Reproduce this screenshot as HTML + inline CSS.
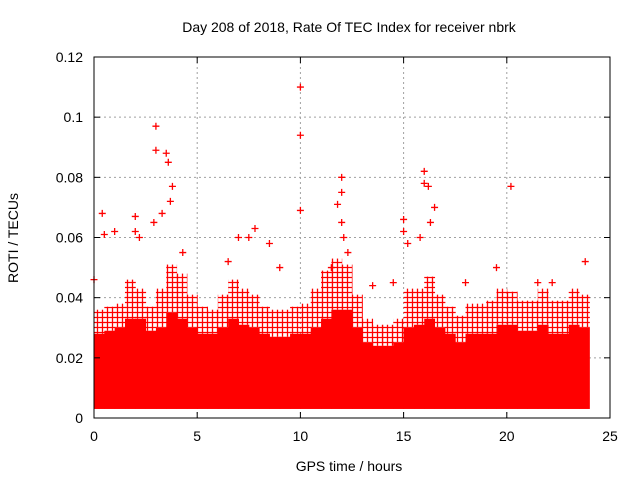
<!DOCTYPE html>
<html><head><meta charset="utf-8"><style>
body{margin:0;background:#fff;}
svg{display:block;font-family:"Liberation Sans",sans-serif;}
</style></head><body>
<svg id="chart" width="640" height="480">
<defs>
<pattern id="plus" width="5" height="5" patternUnits="userSpaceOnUse">
<path d="M0 2.5H5M2.5 0V5" stroke="#f00" stroke-width="1.3"/>
</pattern>
</defs>
<text x="349" y="32" font-size="14" text-anchor="middle">Day 208 of 2018, Rate Of TEC Index for receiver nbrk</text>
<text x="349" y="471" font-size="14" text-anchor="middle">GPS time / hours</text>
<text transform="translate(18,238) rotate(-90)" font-size="14" text-anchor="middle">ROTI / TECUs</text>
<g id="grid"></g><g id="marks"></g><g id="axes"></g>
</svg>
<script>
const xTicks=[0,5,10,15,20,25];
const yTicks=[0,0.02,0.04,0.06,0.08,0.1,0.12];
const yTickLabels=["0","0.02","0.04","0.06","0.08","0.1","0.12"];
const binHours=[0,0.5,1,1.5,2,2.5,3,3.5,4,4.5,5,5.5,6,6.5,7,7.5,8,8.5,9,9.5,10,10.5,11,11.5,12,12.5,13,13.5,14,14.5,15,15.5,16,16.5,17,17.5,18,18.5,19,19.5,20,20.5,21,21.5,22,22.5,23,23.5];
const binLow=[0.003,0.003,0.003,0.003,0.003,0.003,0.003,0.003,0.003,0.003,0.003,0.003,0.003,0.003,0.003,0.003,0.003,0.003,0.003,0.003,0.003,0.003,0.003,0.003,0.003,0.003,0.003,0.003,0.003,0.003,0.003,0.003,0.003,0.003,0.003,0.003,0.003,0.003,0.003,0.003,0.003,0.003,0.003,0.003,0.003,0.003,0.003,0.003];
const binSolid=[0.028,0.029,0.03,0.033,0.033,0.029,0.03,0.035,0.033,0.03,0.028,0.028,0.03,0.033,0.031,0.03,0.028,0.027,0.027,0.028,0.028,0.03,0.033,0.036,0.036,0.03,0.025,0.024,0.024,0.025,0.03,0.031,0.033,0.03,0.028,0.025,0.028,0.028,0.028,0.031,0.031,0.029,0.029,0.031,0.028,0.028,0.031,0.03];
const binSparse=[0.036,0.037,0.038,0.046,0.043,0.037,0.043,0.051,0.048,0.041,0.037,0.036,0.041,0.046,0.043,0.041,0.037,0.036,0.036,0.037,0.038,0.043,0.049,0.053,0.051,0.041,0.033,0.031,0.031,0.033,0.043,0.043,0.047,0.041,0.037,0.034,0.038,0.038,0.039,0.043,0.042,0.039,0.039,0.043,0.039,0.039,0.043,0.041];
const outX=[3,3,3.5,3.6,3.7,10,10,10,12,12,12,12.1,15,15,16,16,16.5,20.2,0.4,0.5,1,2,2,2.9,3.3,7,7.5,7.8,8.5,9,11.5,15.8,16.3,19.5,23.8,0,2.2,6.5,4.3,13.5,14.5,18,21.5,22.2,3.8,11.8,12.3,15.2,16.2];
const outY=[0.097,0.089,0.088,0.085,0.072,0.11,0.094,0.069,0.08,0.075,0.065,0.06,0.066,0.062,0.082,0.078,0.07,0.077,0.068,0.061,0.062,0.067,0.062,0.065,0.068,0.06,0.06,0.063,0.058,0.05,0.05,0.06,0.065,0.05,0.052,0.046,0.06,0.052,0.055,0.044,0.045,0.045,0.045,0.045,0.077,0.071,0.055,0.058,0.077];
const NS="http://www.w3.org/2000/svg";
const X=v=>94+v*(516/25), Y=v=>418-v*(361/0.12);
const grid=document.getElementById('grid'),marks=document.getElementById('marks'),axes=document.getElementById('axes');
function mk(tag,attrs,parent){const e=document.createElementNS(NS,tag);for(const k in attrs)e.setAttribute(k,attrs[k]);parent.appendChild(e);return e;}
yTicks.forEach((t,i)=>{
 if(i>0){const g=mk('line',{x1:94,x2:610,y1:Y(t),y2:Y(t),stroke:'#a0a0a0','stroke-dasharray':'2,3'},grid);
 
 }
 const l=mk('text',{x:83,y:Y(t)+5,'font-size':14,'text-anchor':'end'},axes);l.textContent=yTickLabels[i];
 
 
 mk('line',{x1:94,x2:100,y1:Y(t),y2:Y(t),stroke:'#000'},axes);
 mk('line',{x1:604,x2:610,y1:Y(t),y2:Y(t),stroke:'#000'},axes);
});
xTicks.forEach(t=>{
 if(t>0&&t<25){const g=mk('line',{x1:X(t),x2:X(t),y1:57,y2:418,stroke:'#a0a0a0','stroke-dasharray':'2,3'},grid);
 
 }
 const l=mk('text',{x:X(t),y:441,'font-size':14,'text-anchor':'middle'},axes);l.textContent=t;
 
 
 mk('line',{x1:X(t),x2:X(t),y1:418,y2:412,stroke:'#000'},axes);
 mk('line',{x1:X(t),x2:X(t),y1:57,y2:63,stroke:'#000'},axes);
});
const frame=mk('rect',{x:94,y:57,width:516,height:361,fill:'none',stroke:'#000'},axes);


const bw=0.5*516/25;
binHours.forEach((h,i)=>{
 const s=mk('rect',{x:X(h),y:Y(binSparse[i]),width:bw+0.5,height:Y(binSolid[i])-Y(binSparse[i]),fill:'url(#plus)'},marks);
 
 
 const r=mk('rect',{x:X(h),y:Y(binSolid[i]),width:bw+0.5,height:Y(binLow[i])-Y(binSolid[i]),fill:'#f00'},marks);
 
 
});
outX.forEach((x,i)=>{
 const p=mk('path',{d:`M${X(x)-3.5} ${Y(outY[i])}h7M${X(x)} ${Y(outY[i])-3.5}v7`,stroke:'#f00','stroke-width':1.3},marks);
 
 
});
</script>
</body></html>
